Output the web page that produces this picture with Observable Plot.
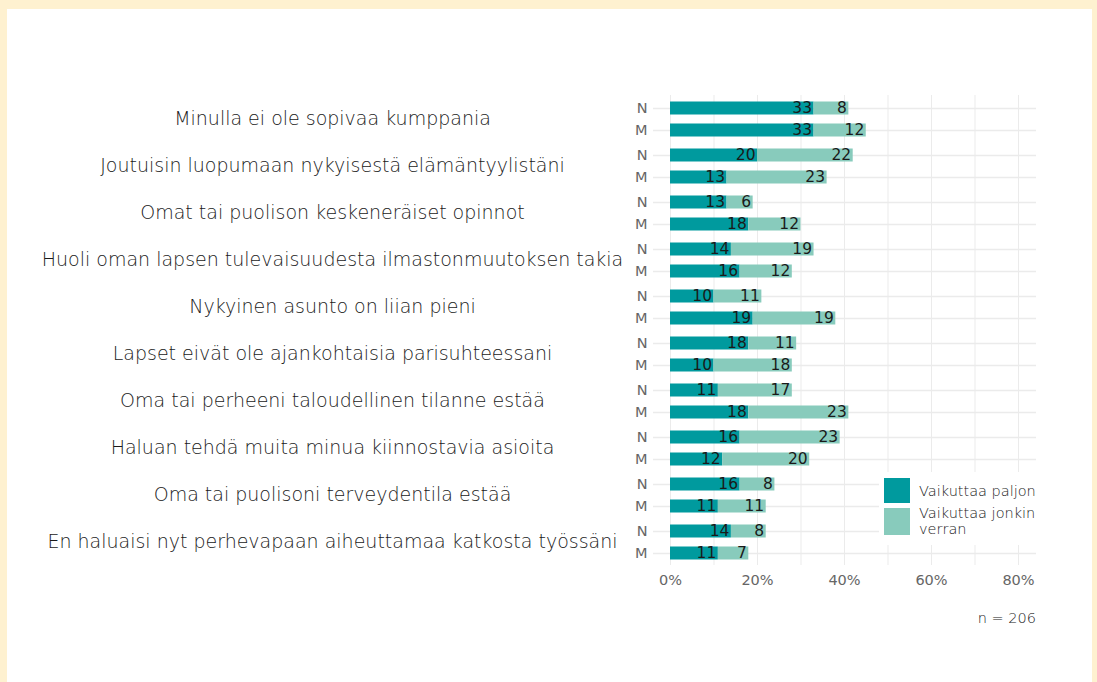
<!DOCTYPE html>
<html>
<head>
<meta charset="utf-8">
<script src="https://cdn.jsdelivr.net/npm/d3@7"></script>
<script src="https://cdn.jsdelivr.net/npm/@observablehq/plot@0.6"></script>
<style>
  body { margin: 0; }
  #wrap { position: relative; width: 1097px; height: 682px; background: #fef1d0; overflow: hidden; font-family: "DejaVu Sans", sans-serif; }
  #inner { position: absolute; left: 7px; top: 9px; width: 1085px; height: 673px; background: #ffffff; }
  #chart { position: absolute; left: 0; top: 0; }
  #legend { position: absolute; left: 879px; top: 472px; width: 157px; background: #fff; padding: 6px 0 6px 5px; box-sizing: border-box; }
  .lrow { display: flex; align-items: center; margin-bottom: 2px; }
  .sw { width: 26px; flex: none; }
  .lt { margin-left: 9px; font-size: 14.5px; font-weight: 300; color: #222; line-height: 16px; white-space: nowrap; }
  #caption { position: absolute; right: 61px; top: 610px; font-size: 14.5px; font-weight: 300; color: #222; }
</style>
</head>
<body>
<div id="wrap">
  <div id="inner"></div>
  <div id="chart"></div>
  <div id="legend"></div>
  <div id="caption"></div>
</div>
<script>
const questions = [
  "Minulla ei ole sopivaa kumppania",
  "Joutuisin luopumaan nykyisestä elämäntyylistäni",
  "Omat tai puolison keskeneräiset opinnot",
  "Huoli oman lapsen tulevaisuudesta ilmastonmuutoksen takia",
  "Nykyinen asunto on liian pieni",
  "Lapset eivät ole ajankohtaisia parisuhteessani",
  "Oma tai perheeni taloudellinen tilanne estää",
  "Haluan tehdä muita minua kiinnostavia asioita",
  "Oma tai puolisoni terveydentila estää",
  "En haluaisi nyt perhevapaan aiheuttamaa katkosta työssäni"
];
const genders = ["N", "M"];
const types = ["Vaikuttaa paljon", "Vaikuttaa jonkin verran"];
const paljonN = [33, 20, 13, 14, 10, 18, 11, 16, 16, 14];
const paljonM = [33, 13, 18, 16, 19, 10, 18, 12, 11, 11];
const jonkinN = [8, 22, 6, 19, 11, 11, 17, 23, 8, 8];
const jonkinM = [12, 23, 12, 12, 19, 18, 23, 20, 11, 7];
const xTicks = [0, 20, 40, 60, 80];
const gridTicks = [0, 10, 20, 30, 40, 50, 60, 70, 80];
const colors = ["#009a9e", "#88cbbc"];
const caption = "n = 206";

const data = [];
questions.forEach((q, i) => {
  data.push({question: q, gender: "N", type: types[0], value: paljonN[i]});
  data.push({question: q, gender: "M", type: types[0], value: paljonM[i]});
});
questions.forEach((q, i) => {
  data.push({question: q, gender: "N", type: types[1], value: jonkinN[i]});
  data.push({question: q, gender: "M", type: types[1], value: jonkinM[i]});
});

const chart = Plot.plot({
  width: 1097,
  height: 598,
  marginLeft: 653,
  marginRight: 61,
  marginTop: 95,
  marginBottom: 33,
  style: {fontFamily: "DejaVu Sans, sans-serif", background: "transparent", overflow: "visible"},
  x: {domain: [-3.91, 84.14], label: null},
  y: {domain: genders, paddingInner: 0, paddingOuter: 0.068, label: null},
  fy: {domain: questions, padding: 0, axis: null, label: null},
  color: {domain: types, range: colors},
  marks: [
    Plot.ruleX(gridTicks, {stroke: "#ebebeb", strokeWidth: 1}),
    Plot.ruleY(genders, {stroke: "#ebebeb", strokeWidth: 1.3}),
    Plot.barX(data, Plot.stackX({x: "value", y: "gender", fy: "question", fill: "type", insetTop: 4.5, insetBottom: 4.5})),
    Plot.text(data, Plot.stackX2({x: "value", y: "gender", fy: "question", z: "type", text: d => String(d.value), textAnchor: "end", dx: -2, fill: "#1a1a1a", fontSize: 15.5, fontWeight: 400})),
    Plot.text(questions, {fy: d => d, text: d => d, frameAnchor: "left", dx: 332 - 653, textAnchor: "middle", fontSize: 19, fontWeight: 300, fill: "#1a1a1a"}),
    Plot.axisY({tickSize: 0, tickPadding: 6, fontSize: 14.5, fontWeight: 400, fill: "#666", label: null}),
    Plot.axisX({ticks: xTicks, tickFormat: d => d + "%", tickSize: 0, tickPadding: 9, fontSize: 14.5, fontWeight: 400, fill: "#666", label: null})
  ]
});
document.getElementById("chart").appendChild(chart);

const legend = document.getElementById("legend");
types.forEach((t, i) => {
  const row = document.createElement("div");
  row.className = "lrow";
  const sw = document.createElement("div");
  sw.className = "sw";
  sw.style.background = colors[i];
  sw.style.height = i === 0 ? "25px" : "27px";
  const lt = document.createElement("div");
  lt.className = "lt";
  lt.innerHTML = i === 0 ? t : t.replace(" verran", "<br>verran");
  row.appendChild(sw);
  row.appendChild(lt);
  legend.appendChild(row);
});
document.getElementById("caption").textContent = caption;
</script>
</body>
</html>
